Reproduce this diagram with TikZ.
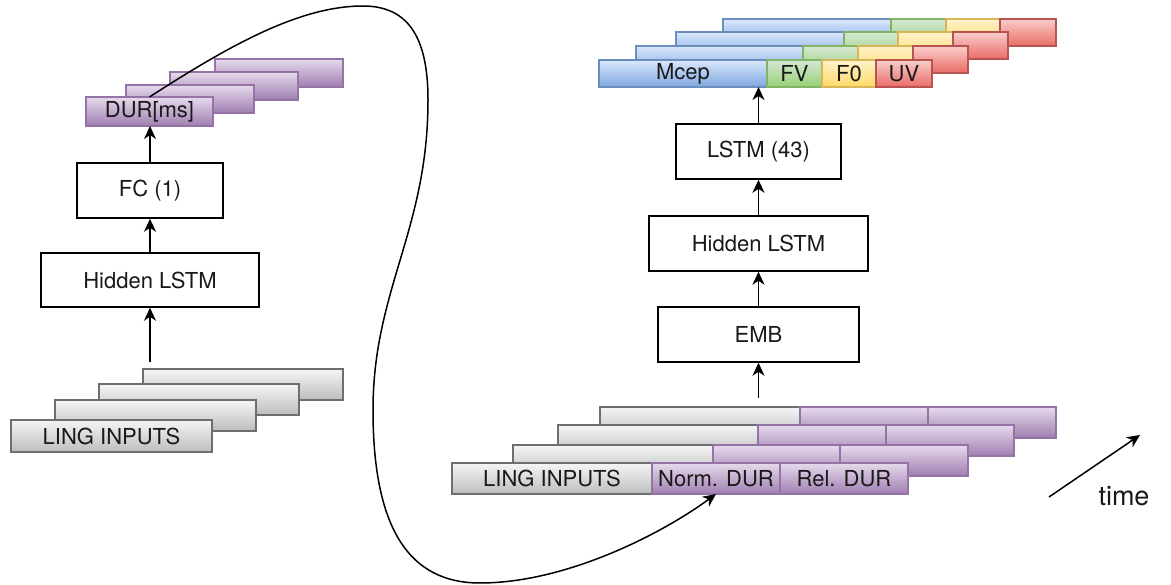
\documentclass[tikz,border=0pt]{standalone}
\usepackage{fontspec}
\setmainfont{TeX Gyre Heros}
\usetikzlibrary{arrows.meta}

\definecolor{grayS}{HTML}{6E6E6E}
\definecolor{grayT}{HTML}{F5F5F5}
\definecolor{grayB}{HTML}{BDBDBD}
\definecolor{purpS}{HTML}{9673A6}
\definecolor{purpT}{HTML}{E6DAEC}
\definecolor{purpB}{HTML}{9F7EB0}
\definecolor{blueS}{HTML}{6C8EBF}
\definecolor{blueT}{HTML}{DAE8FC}
\definecolor{blueB}{HTML}{7EA6E0}
\definecolor{grnS}{HTML}{82B366}
\definecolor{grnT}{HTML}{D5E8D4}
\definecolor{grnB}{HTML}{97D077}
\definecolor{yelS}{HTML}{D6B656}
\definecolor{yelT}{HTML}{FFF2CC}
\definecolor{yelB}{HTML}{FFD966}
\definecolor{redS}{HTML}{B85450}
\definecolor{redT}{HTML}{F8CECC}
\definecolor{redB}{HTML}{EA6B66}

\tikzset{
  lbl/.style={font=\fontsize{22}{26}\selectfont, text=black!90},
  plain/.style={draw=black, line width=1.5pt, fill=white, inner sep=0pt, lbl},
  seg/.style={inner sep=0pt, outer sep=0pt, anchor=north west, line width=1.3pt, lbl},
  grayseg/.style={seg, draw=grayS, top color=grayT, bottom color=grayB},
  purpseg/.style={seg, draw=purpS, top color=purpT, bottom color=purpB},
  blueseg/.style={seg, draw=blueS, top color=blueT, bottom color=blueB},
  grnseg/.style={seg, draw=grnS, top color=grnT, bottom color=grnB},
  yelseg/.style={seg, draw=yelS, top color=yelT, bottom color=yelB},
  redseg/.style={seg, draw=redS, top color=redT, bottom color=redB},
  arr/.style={line width=1.5pt, -{Stealth[length=13pt,width=12pt,inset=4pt]}},
}

% \segbox{style}{name}{x,y of top-left}{width}{height}{text}
\newcommand\segbox[6]{\node[#1, minimum width=#4, minimum height=#5] (#2) at (#3) {#6};}

\begin{document}
\begin{tikzpicture}[x=1pt, y=-1pt]
\useasboundingbox (0,0) rectangle (1171,585);

% ---------- duration model ----------
% linguistic input frames
\segbox{grayseg}{lingL4}{143,369}{200}{31}{}
\segbox{grayseg}{lingL3}{99,384}{200}{31}{}
\segbox{grayseg}{lingL2}{55,400}{201}{31}{}
\segbox{grayseg}{lingL1}{11,420}{201}{32}{LING INPUTS}

\node[plain, minimum width=218, minimum height=54] (hidL) at (150,280) {Hidden LSTM};
\node[plain, minimum width=146, minimum height=55] (fc) at (150,190.5) {FC (1)};

% predicted durations
\segbox{purpseg}{dur4}{215,59}{128}{28}{}
\segbox{purpseg}{dur3}{170,72}{128}{28}{}
\segbox{purpseg}{dur2}{126,85}{128}{28}{}
\segbox{purpseg}{dur1}{86,97}{127}{29}{DUR[ms]}

\coordinate (lsrc) at (150,362);
\draw[arr] (lsrc) -- (hidL.south);
\draw[arr] (hidL.north) -- (fc.south);
\draw[arr] (fc.north) -- (fc.north |- dur1.south);

% ---------- acoustic model ----------
% input frames: linguistic features + durations
\segbox{grayseg}{g4}{600,407}{200}{31}{}
\segbox{purpseg}{nd4}{800,407}{128}{31}{}
\segbox{purpseg}{rd4}{928,407}{128}{31}{}
\segbox{grayseg}{g3}{558,425}{200}{31}{}
\segbox{purpseg}{nd3}{758,425}{128}{31}{}
\segbox{purpseg}{rd3}{886,425}{128}{31}{}
\segbox{grayseg}{g2}{513,445}{200}{31}{}
\segbox{purpseg}{nd2}{713,445}{127}{31}{}
\segbox{purpseg}{rd2}{840,445}{128}{31}{}
\segbox{grayseg}{g1}{452,463}{200}{31}{LING INPUTS}
\segbox{purpseg}{nd1}{652,463}{128}{31}{Norm. DUR}
\segbox{purpseg}{rd1}{780,463}{128}{31}{Rel. DUR}

\node[plain, minimum width=201, minimum height=55] (emb) at (758.5,334.5) {EMB};
\node[plain, minimum width=219, minimum height=55] (hidR) at (758.5,243.5) {Hidden LSTM};
\node[plain, minimum width=165, minimum height=55] (lstm) at (758.5,151.5) {LSTM (43)};

% output frames
\segbox{blueseg}{mc4}{723,19}{168}{27}{}
\segbox{grnseg}{fv4}{891,19}{55}{27}{}
\segbox{yelseg}{fz4}{946,19}{54}{27}{}
\segbox{redseg}{uv4}{1000,19}{56}{27}{}
\segbox{blueseg}{mc3}{676,32}{168}{27}{}
\segbox{grnseg}{fv3}{844,32}{54}{27}{}
\segbox{yelseg}{fz3}{898,32}{55}{27}{}
\segbox{redseg}{uv3}{953,32}{55}{27}{}
\segbox{blueseg}{mc2}{636,46}{167}{27}{}
\segbox{grnseg}{fv2}{803,46}{55}{27}{}
\segbox{yelseg}{fz2}{858,46}{55}{27}{}
\segbox{redseg}{uv2}{913,46}{55}{27}{}
\segbox{blueseg}{mc1}{599,60}{168}{27}{Mcep}
\segbox{grnseg}{fv1}{767,60}{55}{27}{FV}
\segbox{yelseg}{fz1}{822,60}{54}{27}{F0}
\segbox{redseg}{uv1}{876,60}{56}{27}{UV}

\coordinate (rsrc) at (758.5,398);
\draw[arr] (rsrc) -- (emb.south);
\draw[arr] (emb.north) -- (hidR.south);
\draw[arr] (hidR.north) -- (lstm.south);
\draw[arr] (lstm.north) -- (lstm.north |- mc1.south);

% durations fed into the acoustic model
\draw[arr] (dur1.north) .. controls (230,45) and (300,6) .. (363,6)
  .. controls (410,6) and (428,40) .. (428,100)
  .. controls (428,230) and (373,290) .. (373,410)
  .. controls (373,530) and (410,583) .. (480,583)
  .. controls (565,583) and (660,535) .. (nd1.south);

% time axis
\coordinate (t0) at (1049,497);
\coordinate (t1) at (1140,435);
\draw[arr] (t0) -- (t1);
\node[font=\fontsize{27}{31}\selectfont, text=black!90, anchor=base, inner sep=0pt] (tlbl) at (1124,505) {time};
\end{tikzpicture}
\end{document}
